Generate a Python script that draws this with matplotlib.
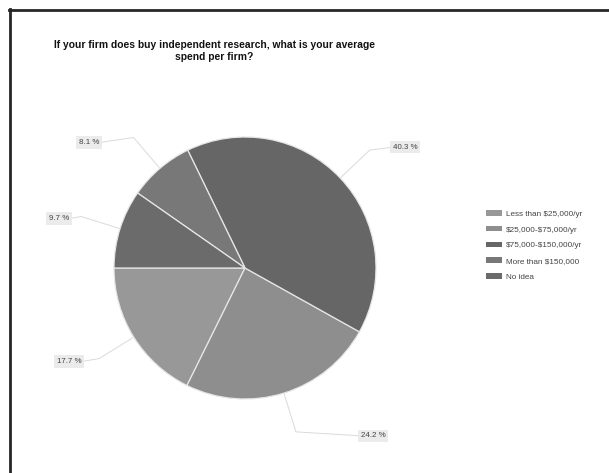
import numpy as np
import matplotlib
matplotlib.use("Agg")
import matplotlib.pyplot as plt
from matplotlib.lines import Line2D

plt.rcParams['font.family'] = ['Liberation Sans', 'DejaVu Sans']

# данные
categories = ['Less than \\$25,000/yr', '\\$25,000-\\$75,000/yr', '\\$75,000-\\$150,000/yr',
              'More than \\$150,000', 'No idea']
shares = [17.7, 24.2, 40.3, 8.1, 9.7]
labels = ['17.7 %', '24.2 %', '40.3 %', '8.1 %', '9.7 %']
colors = ['#989898', '#8e8e8e', '#666666', '#787878', '#6b6b6b']

W, H = 609, 473
fig = plt.figure(figsize=(W / 100, H / 100), dpi=100)
ax = fig.add_axes([0, 0, 1, 1])

cx, cy, R = 245, H - 268, 131
wedges, _ = ax.pie(shares, colors=colors, startangle=180, counterclock=True,
                   center=(cx, cy), radius=R,
                   wedgeprops=dict(edgecolor='#e6e6e6', linewidth=0.9))
ax.set_xlim(0, W)
ax.set_ylim(0, H)
ax.set_aspect('equal')
ax.axis('off')

# сдвиг подписи от излома линии (px)
label_dx = [-18, 65, 23, -34, -12]
label_dy = [-3, -4, 3, -5, -2]

for w, lab, dx, dy in zip(wedges, labels, label_dx, label_dy):
    ang = np.deg2rad((w.theta1 + w.theta2) / 2)
    x0, y0 = cx + R * 1.01 * np.cos(ang), cy + R * 1.01 * np.sin(ang)
    x1, y1 = cx + R * 1.31 * np.cos(ang), cy + R * 1.31 * np.sin(ang)
    x2, y2 = x1 + dx, y1 + dy
    ax.plot([x0, x1, x2], [y0, y1, y2], color='#dadada', lw=0.7)
    ha = 'left' if dx > 0 else 'right'
    ax.text(x2, y2, lab, ha=ha, va='center', fontsize=5.7, color='#444444',
            bbox=dict(boxstyle='square,pad=0.35', fc='#ebebeb', ec='none'))

fig.text(214 / W, 1 - 51 / H,
         'If your firm does buy independent research, what is your average\nspend per firm?',
         ha='center', va='center', fontsize=7.4, fontweight='bold',
         color='#111111', linespacing=1.15)

handles = [plt.Rectangle((0, 0), 1, 1, fc=c, ec='none') for c in colors]
leg = ax.legend(handles, categories, loc='upper left',
                bbox_to_anchor=(486 / W, 1 - 210 / H), frameon=False,
                fontsize=5.85, handlelength=1.95, handleheight=0.7,
                labelspacing=1.0, handletextpad=0.55, borderaxespad=0,
                borderpad=0)
for t in leg.get_texts():
    t.set_color('#444444')

# рамка
fig.add_artist(Line2D([9 / W, 1], [1 - 10 / H, 1 - 10 / H], color='#262626', lw=2.0,
                      transform=fig.transFigure))
fig.add_artist(Line2D([10 / W, 10 / W], [0, 1 - 9 / H], color='#262626', lw=2.0,
                      transform=fig.transFigure))

fig.savefig('out.png', dpi=100, facecolor='white')
